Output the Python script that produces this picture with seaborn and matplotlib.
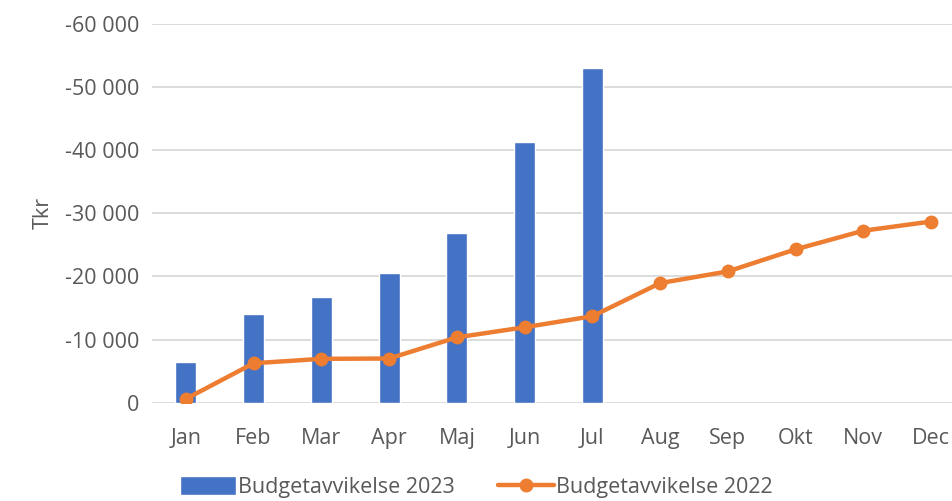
import matplotlib
matplotlib.use("Agg")
import matplotlib.pyplot as plt
import matplotlib.ticker as mticker
import numpy as np
import pandas as pd
import seaborn as sns

months = ["Jan", "Feb", "Mar", "Apr", "Maj", "Jun", "Jul", "Aug", "Sep", "Okt", "Nov", "Dec"]
avvikelse_2023 = [-6450, -14000, -16700, -20550, -26850, -41250, -53050]
avvikelse_2022 = [-600, -6250, -6950, -7000, -10350, -11950, -13700, -18950, -20800, -24300, -27250, -28700]

BLUE = "#4472C4"
ORANGE = "#ED7D31"
TEXT = "#595959"
GRID = "#D9D9D9"

sns.set_theme(style="white")
plt.rcParams["font.family"] = ["Open Sans", "DejaVu Sans"]

bars = pd.DataFrame({"month": months[: len(avvikelse_2023)], "value": avvikelse_2023})
line = pd.DataFrame({"pos": np.arange(len(months)), "value": avvikelse_2022})

fig = plt.figure(figsize=(9.53, 5.01), dpi=100)
ax = fig.add_axes([152 / 953, 1 - 402.7 / 501, (965 - 152) / 953, (402.7 - 24) / 501])

sns.barplot(data=bars, x="month", y="value", order=months, color=BLUE,
            width=0.31, saturation=1, ax=ax, label="Budgetavvikelse 2023")
sns.lineplot(data=line, x="pos", y="value", color=ORANGE, linewidth=3.2,
             marker="o", markersize=10, markeredgewidth=0, ax=ax,
             label="Budgetavvikelse 2022")

ax.set_xlim(-0.5, 11.5)
ax.set_ylim(0, -60000)
ax.yaxis.set_major_locator(mticker.MultipleLocator(10000))
ax.yaxis.set_major_formatter(mticker.FuncFormatter(lambda v, _: f"{v:,.0f}".replace(",", " ")))
ax.grid(axis="y", color=GRID, linewidth=1.3)
ax.set_axisbelow(True)
for s in ax.spines.values():
    s.set_visible(False)
ax.tick_params(axis="both", length=0, labelsize=15.5, colors=TEXT)
ax.tick_params(axis="y", pad=9)
ax.tick_params(axis="x", pad=18)
ax.set_xlabel("")
ax.set_ylabel("Tkr", fontsize=15.5, color=TEXT, labelpad=8)

handles, labels = ax.get_legend_handles_labels()
if ax.legend_:
    ax.legend_.remove()
# bars first, like the original
order = [labels.index("Budgetavvikelse 2023"), labels.index("Budgetavvikelse 2022")]
fig.legend([handles[i] for i in order], [labels[i] for i in order],
           loc="center", bbox_to_anchor=(0.5, 14 / 501),
           ncol=2, frameon=False, fontsize=15.5, labelcolor=TEXT, handlelength=2.6,
           handleheight=1.0, handletextpad=0.1, columnspacing=2.0)

fig.savefig("out.png", dpi=100)
